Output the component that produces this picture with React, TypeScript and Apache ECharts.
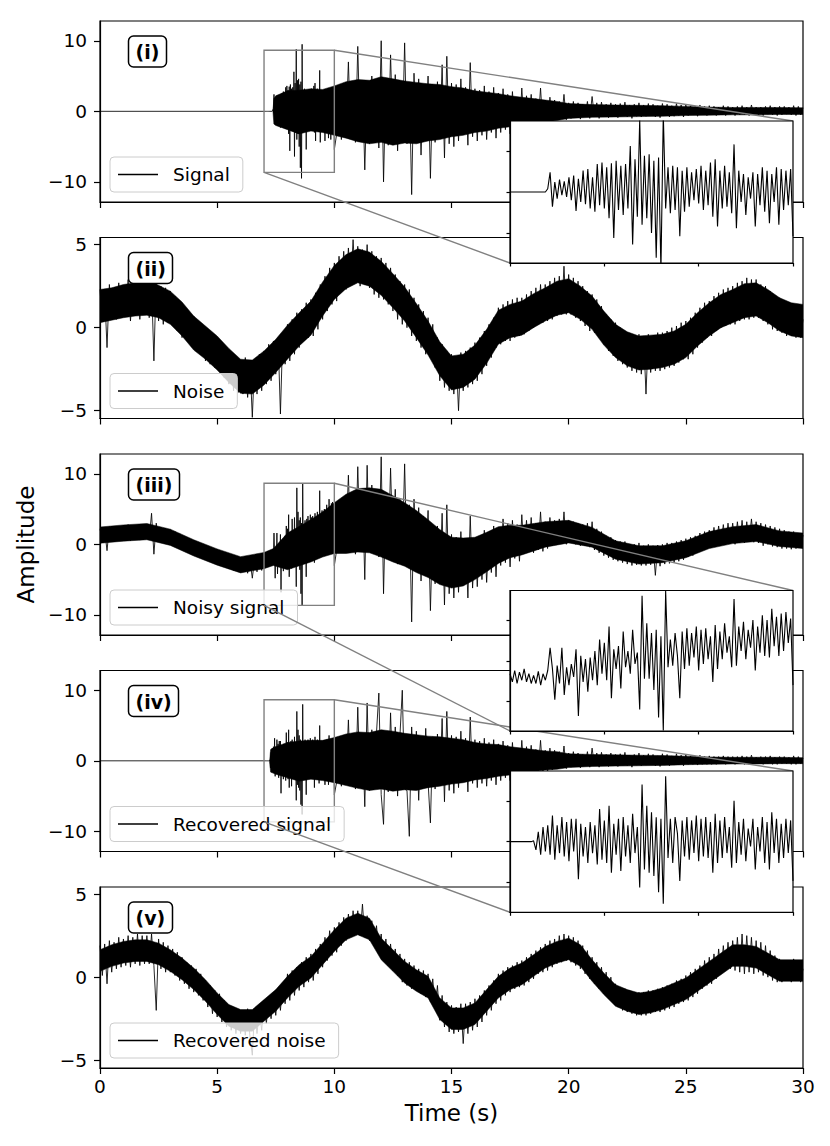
import React, { useEffect, useRef } from 'react';
import * as echarts from 'echarts';

const FONT = 'DejaVu Sans';
const COARSE_DT = 0.1;
const FINE_DT = 0.025;

const xTicks = [0, 5, 10, 15, 20, 25, 30];
const signalYTicks = [-10, 0, 10];
const noiseYTicks = [-5, 0, 5];
const zoomXTicks = [7, 8, 9, 10];
const zoomYTicks = [-5, 0, 5];

const panelNames = ['Signal', 'Noise', 'Noisy signal', 'Recovered signal', 'Recovered noise'];
const panelTags = ['(i)', '(ii)', '(iii)', '(iv)', '(v)'];

// fine samples, t = 7.000 … 10.000 every 0.025 s (shown in the insets)
const signalZoom = [
  0, 0, 0, 0, 0, 0, 0, 0, 0, 0, 0, 0, 0, 0, 0, 0,
  0.4, 2.4, -1.8, 1.2, -0.8, 1.5, -0.4, 1.3, -0.6, 1.8,
  -1.0, 2.0, -2.3, 1.6, -1.2, 2.6, -1.5, 2.8, -2.0, 1.8,
  -2.4, 3.4, -1.6, 3.6, -2.0, 3.0, -3.2, 3.5, -5.6, 3.8,
  -2.2, 3.2, -2.8, 3.4, -2.0, 5.6, -6.4, 4.0, -3.0, 8.8,
  -4.0, 4.4, -3.2, 4.6, -5.0, 3.8, -8.0, 4.2, -9.5, 9.5,
  -2.0, 3.0, -2.6, 3.2, -2.2, 3.0, -5.4, 2.6, -2.4, 3.0,
  -1.8, 2.4, -1.0, 2.8, -1.4, 3.2, -2.2, 2.6, -1.6, 3.6,
  -3.0, 4.0, -4.2, 2.6, -2.0, 3.2, -1.8, 2.4, -2.6, 5.8,
  -4.4, 2.6, -1.2, 2.2, -2.8, 1.8, -0.8, 2.4, -4.2, 2.2,
  -1.6, 3.0, -2.4, 2.6, -3.8, 2.2, -1.2, 3.0, -4.0, 2.8,
  -2.2, 2.6, -1.6, 2.8, -5.4,
];
const noisySignalZoom = [
  -1.6, -2.6, -1.2, -2.8, -1.4, -2.4, -1.0, -2.6, -1.6, -2.8,
  -1.8, -2.8, -1.3, -3.0, -1.6, -2.4, -1.2, 1.6, -1.0, -4.8,
  -0.6, -2.8, 1.6, -4.2, -0.8, -3.0, -0.4, -2.0, 1.4, -6.8,
  0.6, -2.6, 0.2, -3.8, 0.4, -2.4, 1.2, -3.0, 2.6, -1.6,
  2.2, -2.4, 4.2, -4.6, 1.4, -1.0, 1.8, -3.4, 3.6, -0.8,
  1.2, -1.6, 3.8, -0.4, 1.0, -6.0, 8.0, -2.2, 4.6, -2.2,
  3.4, -3.6, 3.8, -7.0, 3.0, -8.6, 8.6, -0.8, 2.6, -0.6,
  3.4, 0.6, -4.6, 3.6, -1.0, 4.0, -0.6, 3.4, 0.4, 4.2,
  -1.2, 3.8, -0.4, 4.0, 0.2, 3.0, -2.6, 4.4, -1.0, 3.6,
  0.2, 4.6, 1.0, 3.0, -0.8, 7.6, -0.6, 4.2, 1.2, 4.8,
  0.2, 3.8, 1.6, 5.0, -1.2, 4.2, 1.0, 5.6, 0.6, 5.0,
  0.4, 6.4, 1.8, 5.4, 0.6, 5.8, 1.2, 6.0, 2.2, 5.2,
  -3.0,
];
const recoveredSignalZoom = [
  0, 0, 0, 0, 0, 0, 0, 0, 0, 0,
  0.1, -1.0, 1.2, -1.6, 1.8, -1.2, 2.0, -1.6, 3.2, -2.2,
  2.0, -1.4, 3.0, -1.8, 2.4, -2.4, 2.8, -1.2, 2.8, -4.6,
  2.2, -1.8, 1.8, -2.6, 2.4, -1.4, 2.0, -2.8, 4.0, -2.2,
  2.6, -2.6, 4.4, -3.8, 2.2, -1.6, 2.8, -3.6, 3.0, -1.8,
  2.0, -2.6, 3.4, -1.4, 1.8, -5.6, 7.0, -3.4, 4.4, -3.8,
  3.6, -4.2, 3.0, -6.2, 2.8, -7.6, 8.0, -2.0, 2.8, -2.6,
  3.0, 1.0, -4.8, 2.6, -1.8, 3.0, -2.2, 2.6, -1.4, 3.2,
  -2.4, 2.8, -1.8, 3.0, -2.0, 2.4, -3.8, 3.4, -2.6, 2.6,
  -2.0, 3.0, -1.4, 1.8, -3.2, 5.0, -2.6, 2.4, -1.6, 2.8,
  -2.4, 1.6, -0.6, 2.8, -3.4, 1.8, -1.2, 3.0, -2.6, 2.4,
  -3.4, 3.6, -1.4, 2.8, -2.6, 2.2, -2.0, 2.8, -1.4, 2.6,
  -4.8,
];

// coarse samples every 0.1 s
const signalTail = [ // t = 10.1 … 30.0
  -3.2, 2.8, -4.0, 3.4, -2.2, 7.0, -3.6, 2.2, -4.4, 9.2,
  -3.8, 4.2, -8.3, 3.6, -4.6, 5.0, -3.0, 4.4, -5.2, 10.0,
  -10.0, 4.6, -4.8, 8.0, -3.6, 5.2, -5.6, 3.8, -4.2, 9.7,
  -4.6, 4.0, -11.8, 5.4, -3.8, 4.6, -6.2, 3.6, -4.0, 5.0,
  -9.5, 3.6, -4.4, 4.2, -3.4, 6.6, -6.6, 7.8, -4.6, 4.0,
  -5.0, 3.8, -4.2, 4.6, -3.2, 3.4, -4.8, 6.9, -3.6, 3.2,
  -4.2, 3.0, -3.4, 3.6, -4.0, 2.8, -3.0, 3.4, -3.8, 2.6,
  -3.0, 3.2, -2.6, 2.4, -3.2, 2.8, -2.2, 2.0, -2.6, 3.3,
  -2.0, 2.2, -1.8, 2.4, -2.2, 1.8, -1.6, 3.3, -2.0, 1.6,
  -1.8, 2.0, -1.4, 1.6, -1.2, 1.4, -1.0, 2.4, -1.2, 1.2,
  -1.0, 1.4, -0.9, 1.2, -1.1, 1.0, -0.8, 1.4, -1.0, 2.1,
  -0.8, 1.2, -1.0, 1.3, -0.7, 1.0, -0.9, 1.2, -0.8, 1.0,
  -0.9, 1.1, -0.6, 1.3, -0.8, 0.9, -1.0, 1.0, -0.7, 1.2,
  -0.8, 0.9, -0.7, 1.1, -0.6, 1.0, -0.8, 0.8, -0.9, 1.1,
  -0.6, 1.0, -0.8, 0.8, -0.7, 1.1, -0.6, 0.9, -0.8, 1.0,
  -0.6, 0.8, -0.5, 0.7, -0.7, 0.9, -0.5, 0.7, -0.6, 0.8,
  -0.5, 0.7, -0.6, 0.6, -0.5, 0.8, -0.6, 0.7, -0.4, 0.6,
  -0.6, 0.7, -0.5, 0.8, -0.5, 0.6, -0.6, 0.9, -0.5, 0.6,
  -0.5, 0.6, -0.6, 0.7, -0.4, 0.8, -0.5, 0.6, -0.6, 0.7,
  -0.5, 0.7, -0.4, 0.6, -0.5, 0.8, -0.6, 0.7, -0.5, 0.5,
];
const noise = [ // t = 0.0 … 30.0
  2.3, 0.4, 2.1, -1.2, 2.6, 0.6, 2.2, 0.5, 2.7, 0.8,
  2.5, 0.7, 2.9, 0.4, 2.4, 1.0, 2.8, 0.5, 2.6, 0.9,
  2.9, 0.6, 2.7, -2.0, 3.1, 0.4, 2.5, 0.2, 2.4, 0.3,
  2.2, 0.1, 1.9, -0.2, 1.6, -0.6, 1.2, -0.8, 0.9, -1.1,
  0.7, -1.4, 0.3, -1.6, 0.1, -2.0, -0.2, -2.2, -0.5, -2.4,
  -0.6, -2.6, -0.9, -3.0, -1.2, -3.4, -1.6, -3.8, -1.9, -3.9,
  -2.0, -4.0, -1.8, -4.2, -2.1, -5.4, -1.9, -4.0, -1.6, -3.8,
  -1.4, -3.4, -1.0, -3.2, -0.8, -2.8, -0.6, -5.2, -0.3, -2.2,
  0.2, -2.0, 0.5, -1.6, 0.9, -1.2, 1.1, -0.8, 1.5, -0.6,
  1.7, -0.5, 2.1, -0.1, 2.6, 0.5, 3.1, 1.0, 3.6, 1.4,
  3.9, 1.6, 4.3, 2.2, 4.6, 2.3, 4.8, 2.6, 5.3, 2.7,
  4.9, 2.5, 4.7, 2.6, 5.0, 2.4, 4.6, 2.0, 4.3, 1.8,
  4.2, 1.7, 3.9, 1.4, 3.6, 1.0, 3.2, 0.5, 2.8, 0.2,
  2.6, 0.0, 2.3, -0.5, 1.8, -0.8, 1.4, -1.2, 1.0, -1.6,
  0.6, -1.8, 0.2, -2.4, -0.6, -3.2, -1.0, -3.6, -1.4, -3.8,
  -1.6, -4.0, -1.8, -5.0, -1.5, -3.8, -1.4, -3.6, -1.2, -3.4,
  -0.9, -3.2, -0.6, -2.8, -0.2, -2.3, 0.2, -1.8, 0.6, -1.2,
  1.2, -1.0, 1.4, -0.8, 1.6, -0.8, 1.7, -0.6, 1.8, -0.5,
  1.8, -0.4, 2.0, -0.2, 2.2, 0.0, 2.4, 0.2, 2.6, 0.3,
  2.6, 0.4, 2.8, 0.5, 3.0, 0.7, 3.1, 0.8, 3.7, 0.8,
  3.2, 0.8, 3.0, 0.6, 2.8, 0.4, 2.5, 0.1, 2.2, -0.2,
  2.0, -0.3, 1.7, -0.6, 1.3, -1.0, 0.8, -1.4, 0.5, -1.7,
  0.3, -2.0, 0.0, -2.2, -0.3, -2.4, -0.4, -2.6, -0.5, -2.7,
  -0.4, -2.8, -0.5, -4.0, -0.4, -2.7, -0.5, -2.6, -0.3, -2.6,
  -0.3, -2.5, -0.2, -2.4, 0.0, -2.3, 0.1, -2.1, 0.3, -1.9,
  0.4, -1.9, 0.6, -1.6, 0.9, -1.2, 1.2, -0.9, 1.5, -0.6,
  1.6, -0.5, 1.9, -0.2, 2.1, 0.0, 2.3, 0.1, 2.4, 0.2,
  2.5, 0.2, 2.7, 0.4, 2.8, 0.5, 3.0, 0.5, 2.9, 0.6,
  2.9, 0.6, 2.6, 0.4, 2.5, 0.2, 2.2, -0.1, 1.9, -0.2,
  1.8, -0.3, 1.6, -0.5, 1.5, -0.4, 1.4, -0.6, 1.3, -0.6,
  0.5,
];
const noisySignalHead = [ // t = 0.0 … 6.9
  2.2, 0.5, 2.0, -0.9, 2.5, 0.7, 2.1, 0.6, 2.6, 0.9,
  2.4, 0.8, 2.8, 0.5, 2.3, 1.1, 2.7, 0.6, 2.5, 1.0,
  2.8, 0.7, 4.4, -1.4, 3.0, 0.5, 2.4, 0.3, 2.3, 0.4,
  2.1, 0.2, 1.8, -0.1, 1.5, -0.5, 1.1, -0.7, 0.8, -1.0,
  0.6, -1.3, 0.2, -1.5, 0.0, -1.9, -0.3, -2.1, -0.6, -2.3,
  -0.7, -2.5, -1.0, -2.9, -1.3, -3.3, -1.7, -3.7, -2.0, -3.8,
  -2.1, -3.9, -1.9, -4.1, -2.2, -4.8, -2.0, -3.9, -1.7, -3.7,
];
const noisySignalTail = [ // t = 10.1 … 30.0
  -0.8, 5.6, -1.2, 6.6, 1.0, 9.8, -0.6, 5.8, -1.4, 11.0,
  -0.4, 7.6, -5.0, 11.2, -1.0, 8.4, 0.4, 7.8, -1.8, 12.4,
  -7.0, 7.4, -1.8, 10.8, -0.8, 7.8, -2.8, 6.4, -1.6, 11.4,
  -3.0, 5.6, -11.0, 6.4, -2.6, 5.2, -5.2, 4.0, -3.6, 4.8,
  -9.4, 2.6, -5.6, 2.6, -5.0, 4.4, -8.6, 5.6, -7.0, 1.4,
  -7.6, 1.0, -6.8, 1.8, -5.8, 0.8, -7.6, 4.0, -6.2, 0.8,
  -6.0, 1.0, -5.0, 2.0, -5.4, 1.4, -4.0, 2.6, -4.6, 2.2,
  -3.0, 3.6, -2.6, 3.0, -3.2, 3.4, -2.0, 2.8, -2.4, 4.2,
  -1.2, 3.4, -1.0, 3.8, -1.2, 3.0, -0.8, 4.6, -1.0, 3.2,
  -0.6, 3.8, -0.2, 3.4, 0.0, 3.6, 0.2, 4.6, 0.0, 3.4,
  0.2, 3.2, 0.0, 3.0, -0.2, 2.8, -0.2, 3.0, -0.4, 3.2,
  -0.8, 2.2, -1.2, 1.8, -1.6, 1.2, -1.9, 1.0, -2.2, 0.6,
  -2.4, 0.4, -2.6, 0.4, -2.8, 0.0, -3.0, 0.0, -2.9, 0.2,
  -3.0, -0.2, -3.0, 0.0, -2.9, -0.2, -4.4, -0.1, -3.1, 0.0,
  -2.8, 0.2, -2.7, 0.2, -2.6, 0.4, -2.4, 0.6, -2.2, 0.8,
  -1.8, 1.0, -1.6, 1.2, -1.2, 1.6, -0.9, 1.8, -0.6, 2.0,
  -0.4, 2.4, -0.2, 2.6, 0.0, 2.8, 0.0, 3.0, 0.2, 3.0,
  0.0, 3.2, 0.2, 3.4, 0.2, 3.2, 0.4, 3.6, 0.3, 3.2,
  0.2, 3.0, -0.2, 2.8, 0.0, 2.6, -0.3, 2.4, -0.4, 2.2,
  -0.6, 2.0, -0.6, 1.8, -0.7, 1.8, -0.6, 1.6, -0.5, 1.3,
];
const recoveredSignalTail = [ // t = 10.1 … 30.0
  -3.0, 2.6, -3.6, 3.0, -2.4, 5.8, -3.2, 2.4, -4.0, 7.6,
  -3.4, 3.8, -6.5, 8.2, -4.2, 4.4, -2.8, 4.0, 9.6, -4.8,
  -9.0, 4.2, -4.4, 6.8, -3.4, 4.8, -5.0, 3.6, 10.0, -4.0,
  -4.2, -10.7, 4.8, -3.6, 4.2, -5.6, 3.4, -3.8, 4.6, -3.0,
  -8.8, 3.4, -4.0, 3.8, -3.2, 6.0, -5.8, 7.0, -4.2, 3.6,
  -4.6, 3.4, -3.8, 4.2, -3.0, 3.2, -4.4, 6.2, -3.2, 3.0,
  -3.8, 2.8, -3.2, 3.2, -3.6, 2.6, -2.8, 3.0, -3.4, 2.4,
  -2.8, 2.8, -2.4, 2.2, -2.8, 2.6, -2.0, 1.8, -2.4, 2.9,
  -1.8, 2.0, -1.6, 2.2, -2.0, 1.6, -1.5, 2.9, -1.8, 1.5,
  -1.6, 1.8, -1.3, 1.5, -1.1, 1.3, -0.9, 2.1, -1.1, 1.1,
  -0.9, 1.3, -0.8, 1.1, -1.0, 0.9, -0.7, 1.3, -0.9, 1.8,
  -0.7, 1.1, -0.9, 1.2, -0.6, 0.9, -0.8, 1.1, -0.7, 0.9,
  -0.8, 1.0, -0.6, 1.2, -0.7, 0.8, -0.9, 0.9, -0.6, 1.1,
  -0.7, 0.8, -0.6, 1.0, -0.5, 0.9, -0.7, 0.7, -0.8, 1.0,
  -0.6, 0.9, -0.7, 0.7, -0.6, 1.0, -0.5, 0.8, -0.7, 0.9,
  -0.5, 0.7, -0.5, 0.6, -0.6, 0.8, -0.5, 0.6, -0.5, 0.7,
  -0.5, 0.6, -0.5, 0.6, -0.4, 0.7, -0.5, 0.6, -0.4, 0.6,
  -0.5, 0.6, -0.4, 0.7, -0.5, 0.6, -0.5, 0.8, -0.4, 0.5,
  -0.4, 0.6, -0.5, 0.6, -0.4, 0.7, -0.5, 0.5, -0.5, 0.6,
  -0.4, 0.6, -0.4, 0.5, -0.5, 0.7, -0.5, 0.6, -0.4, 0.4,
];
const recoveredNoise = [ // t = 0.0 … 30.0
  1.9, 0.1, 2.0, -0.4, 2.2, 0.3, 2.1, 0.5, 2.4, 0.6,
  2.3, 0.7, 2.5, 0.6, 2.4, 0.8, 2.6, 0.7, 2.5, 0.8,
  2.5, 0.8, 2.6, 0.7, -2.0, 2.3, 0.5, 2.1, 0.3, 1.9,
  0.3, 1.7, 0.1, 1.5, -0.2, 1.2, -0.4, 0.9, -0.7, 0.7,
  -0.9, 0.5, -1.1, 0.2, -1.4, -0.2, -1.8, -0.5, -2.2, -0.8,
  -2.4, -1.0, -2.7, -1.4, -3.0, -1.7, -3.2, -2.0, -3.4, -2.2,
  -3.4, -2.0, -3.5, -1.9, -3.6, -4.7, -1.9, -3.4, -2.0, -3.2,
  -1.4, -2.8, -1.2, -2.5, -0.9, -2.3, -0.7, -2.0, -0.4, -1.6,
  0.2, -1.4, 0.4, -1.1, 0.6, -0.8, 0.9, -0.6, 1.2, -0.3,
  1.4, -0.2, 1.7, 0.2, 2.0, 0.6, 2.4, 1.0, 2.8, 1.3,
  3.0, 1.5, 3.3, 1.9, 3.6, 2.2, 3.8, 2.5, 4.0, 2.6,
  4.0, 2.5, 4.4, 2.4, 3.7, 2.2, 3.4, 1.9, 3.1, 1.5,
  2.6, 1.0, 2.3, 0.7, 2.0, 0.4, 1.7, 0.1, 1.4, -0.3,
  1.1, -0.5, 0.9, -0.7, 0.7, -0.8, 0.5, -1.0, 0.4, -1.2,
  0.2, -1.5, -0.1, -1.9, -0.5, -2.6, -1.1, -3.0, -1.5, -3.3,
  -1.7, -3.4, -1.8, -3.3, -1.6, -4.0, -1.6, -3.4, -1.5, -3.2,
  -1.3, -3.0, -1.1, -2.7, -0.8, -2.3, -0.5, -2.0, -0.2, -1.6,
  0.2, -1.4, 0.4, -1.1, 0.6, -0.9, 0.7, -0.7, 0.9, -0.6,
  1.0, -0.5, 1.2, -0.3, 1.4, -0.1, 1.6, 0.2, 1.8, 0.3,
  2.0, 0.4, 2.2, 0.6, 2.3, 0.8, 2.5, 0.9, 2.6, 1.0,
  2.5, 0.9, 2.4, 0.7, 2.2, 0.5, 1.9, 0.2, 1.6, -0.1,
  1.2, -0.4, 0.9, -0.7, 0.6, -1.0, 0.3, -1.3, 0.0, -1.5,
  -0.4, -1.8, -0.6, -2.0, -0.7, -2.1, -0.8, -2.2, -0.9, -2.3,
  -0.9, -2.3, -0.9, -2.3, -0.8, -2.2, -0.8, -2.1, -0.7, -2.1,
  -0.6, -2.0, -0.5, -1.9, -0.4, -1.8, -0.2, -1.6, -0.1, -1.5,
  0.1, -1.4, 0.3, -1.2, 0.5, -1.0, 0.7, -0.7, 1.0, -0.5,
  1.2, -0.4, 1.4, -0.1, 1.7, 0.2, 1.9, 0.4, 2.1, 0.5,
  2.2, 0.4, 2.4, 0.3, 2.6, 0.2, 2.5, 0.3, 2.4, 0.2,
  2.2, 0.3, 2.1, 0.1, 1.9, 0.0, 1.6, -0.2, 1.3, -0.3,
  1.1, -0.3, 1.0, -0.2, 1.0, -0.3, 1.1, -0.2, 1.0, -0.3,
  0.5,
];

// dense core of each trace: [t, lower, upper]
const signalCore = [
  [7.38, 0, 0], [7.42, -1.8, 1.8], [7.5, -2.0, 2.2], [8, -2.6, 2.9], [8.5, -3.2, 3.0], [9, -2.8, 3.2],
  [9.5, -3.0, 3.1], [10, -3.4, 3.6], [10.5, -3.8, 4.2], [11, -4.3, 4.5], [11.5, -4.6, 4.4], [12, -4.4, 4.9],
  [12.5, -4.8, 4.6], [13, -4.5, 4.3], [13.5, -4.6, 4.1], [14, -4.2, 3.9], [14.5, -4.0, 3.8], [15, -3.6, 3.5],
  [15.5, -3.4, 3.3], [16, -3.0, 2.9], [16.5, -2.8, 2.7], [17, -2.4, 2.5], [17.5, -2.2, 2.2], [18, -2.0, 2.0],
  [18.5, -1.7, 1.8], [19, -1.5, 1.6], [19.5, -1.3, 1.4], [20, -1.0, 1.1], [21, -0.85, 0.95], [22, -0.8, 0.9],
  [23, -0.75, 0.85], [24, -0.7, 0.8], [25, -0.6, 0.7], [26, -0.55, 0.6], [27, -0.5, 0.55], [28, -0.5, 0.55],
  [29, -0.45, 0.55], [30, -0.45, 0.5],
];
const noiseCore = [
  [0, 0.3, 2.3], [0.5, 0.45, 2.4], [1, 0.6, 2.6], [1.5, 0.7, 2.7], [2, 0.75, 2.85], [2.5, 0.6, 2.55],
  [3, 0.2, 2.2], [3.5, -0.5, 1.55], [4, -1.35, 0.7], [4.5, -1.9, 0.1], [5, -2.55, -0.5], [5.5, -3.3, -1.25],
  [6, -3.95, -1.9], [6.5, -4.0, -1.95], [7, -3.45, -1.4], [7.5, -2.7, -0.7], [8, -1.9, 0.15], [8.5, -1.1, 0.9],
  [9, -0.45, 1.6], [9.5, 0.7, 2.75], [10, 1.7, 3.75], [10.5, 2.35, 4.4], [11, 2.7, 4.75], [11.5, 2.5, 4.55],
  [12, 1.95, 4.0], [12.5, 1.2, 3.25], [13, 0.4, 2.45], [13.5, -0.6, 1.45], [14, -1.65, 0.4], [14.5, -2.9, -0.85],
  [15, -3.75, -1.7], [15.5, -3.6, -1.6], [16, -3.1, -1.05], [16.5, -2.15, -0.1], [17, -1.0, 1.05], [17.5, -0.6, 1.4],
  [18, -0.45, 1.6], [18.5, 0.0, 2.05], [19, 0.4, 2.4], [19.5, 0.75, 2.8], [20, 0.9, 2.95], [20.5, 0.5, 2.5],
  [21, -0.1, 1.9], [21.5, -1.05, 1.0], [22, -1.8, 0.2], [22.5, -2.3, -0.25], [23, -2.55, -0.5], [23.5, -2.5, -0.45],
  [24, -2.4, -0.4], [24.5, -2.2, -0.2], [25, -1.8, 0.2], [25.5, -1.1, 0.9], [26, -0.5, 1.5], [26.5, 0.0, 2.0],
  [27, 0.3, 2.3], [27.5, 0.6, 2.65], [28, 0.7, 2.7], [28.5, 0.3, 2.3], [29, -0.2, 1.8], [29.5, -0.5, 1.5],
  [30, -0.6, 1.4],
];
const noisySignalCore = [
  [0, 0.15, 2.45], [1, 0.45, 2.75], [2, 0.65, 2.95], [3, -0.15, 2.15], [4, -1.65, 0.65], [5, -2.95, -0.65], [6, -4.05, -1.75],
  [7, -3.45, -1.15], [7.4, -3.0, -0.6], [8, -3.6, 1.6], [9, -2.5, 3.5], [9.5, -1.8, 4.6], [10, -1.3, 5.9],
  [10.5, -1.3, 7.1], [11, -1.1, 7.9], [11.5, -1.2, 8.0], [12, -1.8, 7.8], [12.5, -2.5, 6.9], [13, -3.1, 5.9],
  [13.5, -4.0, 4.8], [14, -4.7, 3.5], [14.5, -5.7, 2.1], [15, -6.2, 1.0], [15.5, -5.9, 0.9], [16, -5.0, 1.0],
  [16.5, -3.9, 1.7], [17, -2.7, 2.5], [17.5, -1.9, 2.7], [18, -1.5, 2.7], [19, -0.4, 3.2], [20, 0.2, 3.4],
  [21, -0.4, 2.4], [22, -2.1, 0.5], [23, -2.8, -0.2], [24, -2.6, -0.2], [25, -1.9, 0.5], [26, -0.6, 1.8],
  [27, 0.1, 2.5], [28, 0.4, 2.8], [29, -0.3, 1.9], [30, -0.6, 1.6],
];
const recoveredSignalCore = [
  [7.24, 0, 0], [7.28, -1.6, 1.6], [7.5, -1.9, 2.0], [8, -2.4, 2.6], [8.5, -2.9, 2.8], [9, -2.6, 2.9],
  [9.5, -2.8, 2.9], [10, -3.1, 3.3], [10.5, -3.5, 3.8], [11, -3.9, 4.1], [11.5, -4.2, 4.0], [12, -4.0, 4.4],
  [12.5, -4.3, 4.2], [13, -4.1, 3.9], [13.5, -4.2, 3.7], [14, -3.8, 3.5], [14.5, -3.6, 3.4], [15, -3.3, 3.2],
  [15.5, -3.1, 3.0], [16, -2.7, 2.6], [16.5, -2.5, 2.4], [17, -2.2, 2.3], [17.5, -2.0, 2.0], [18, -1.8, 1.8],
  [18.5, -1.5, 1.6], [19, -1.3, 1.4], [19.5, -1.2, 1.3], [20, -0.95, 1.0], [21, -0.8, 0.9], [22, -0.75, 0.85],
  [23, -0.7, 0.8], [24, -0.65, 0.75], [25, -0.55, 0.65], [26, -0.5, 0.55], [27, -0.45, 0.5], [28, -0.45, 0.5],
  [29, -0.4, 0.5], [30, -0.4, 0.45],
];
const recoveredNoiseCore = [
  [0, 0.35, 1.65], [0.5, 0.65, 1.95], [1, 0.85, 2.15], [1.5, 0.95, 2.25], [2, 0.95, 2.25], [2.5, 0.75, 2.05],
  [3, 0.35, 1.65], [3.5, -0.15, 1.15], [4, -0.75, 0.55], [4.5, -1.45, -0.15], [5, -2.25, -0.95], [5.5, -2.95, -1.65],
  [6, -3.25, -1.95], [6.5, -3.25, -1.95], [7, -2.65, -1.35], [7.5, -2.05, -0.75], [8, -1.25, 0.05], [8.5, -0.55, 0.75],
  [9, -0.05, 1.25], [9.5, 0.75, 2.05], [10, 1.55, 2.85], [10.5, 2.25, 3.55], [11, 2.55, 3.85], [11.5, 2.25, 3.55],
  [12, 1.05, 2.35], [12.5, 0.35, 1.65], [13, -0.35, 0.95], [13.5, -0.85, 0.45], [14, -1.25, 0.05], [14.5, -2.55, -1.25],
  [15, -3.15, -1.85], [15.5, -3.15, -1.85], [16, -2.85, -1.55], [16.5, -2.05, -0.75], [17, -1.25, 0.05], [17.5, -0.75, 0.55],
  [18, -0.45, 0.85], [18.5, 0.05, 1.35], [19, 0.55, 1.85], [19.5, 0.85, 2.15], [20, 1.05, 2.35], [20.5, 0.65, 1.95],
  [21, -0.25, 1.05], [21.5, -1.05, 0.25], [22, -1.75, -0.45], [22.5, -2.05, -0.75], [23, -2.25, -0.95], [23.5, -2.15, -0.85],
  [24, -1.95, -0.65], [24.5, -1.65, -0.35], [25, -1.35, -0.05], [25.5, -0.85, 0.45], [26, -0.35, 0.95], [26.5, 0.15, 1.45],
  [27, 0.65, 1.95], [27.5, 0.65, 1.95], [28, 0.55, 1.85], [28.5, 0.15, 1.45], [29, -0.25, 1.05], [29.5, -0.25, 1.05],
  [30, -0.25, 1.05],
];

const SIGNAL_RANGE = [-12.85, 12.8];
const NOISE_RANGE = [-5.47, 5.43];
const ZOOM_T = [7, 10];
const ZOOM_V = [-8.65, 8.65];

// layout (pixels)
const LEFT = 100;
const WIDTH = 703;
const PANEL_TOPS = [21, 237.5, 454, 670.5, 887];
const PANEL_H = 181;
const INSETS = [
  { panel: 0, top: 121, h: 142 },
  { panel: 2, top: 590.5, h: 140.5 },
  { panel: 3, top: 771, h: 141.3 },
];
const INSET_LEFT = 510;
const INSET_W = 283;

function seg(t0: number, dt: number, vals: number[]) {
  return vals.map((v, i) => [Math.round((t0 + i * dt) * 1000) / 1000, v]);
}

const zoomSets = [signalZoom, noisySignalZoom, recoveredSignalZoom];

const panelData = [
  [[0, 0], ...seg(7, FINE_DT, signalZoom), ...seg(10.1, COARSE_DT, signalTail)],
  seg(0, COARSE_DT, noise),
  [...seg(0, COARSE_DT, noisySignalHead), ...seg(7, FINE_DT, noisySignalZoom), ...seg(10.1, COARSE_DT, noisySignalTail)],
  [[0, 0], ...seg(7, FINE_DT, recoveredSignalZoom), ...seg(10.1, COARSE_DT, recoveredSignalTail)],
  seg(0, COARSE_DT, recoveredNoise),
];
const panelCores = [signalCore, noiseCore, noisySignalCore, recoveredSignalCore, recoveredNoiseCore];
const panelRanges = [SIGNAL_RANGE, NOISE_RANGE, SIGNAL_RANGE, SIGNAL_RANGE, NOISE_RANGE];
const panelYTicks = [signalYTicks, noiseYTicks, signalYTicks, signalYTicks, noiseYTicks];

const fmt = (v: number) => (v < 0 ? '\u2212' + Math.abs(v) : String(v));
const BLACK = '#000';
const GRAY = '#808080';

export default function App() {
  const ref = useRef<HTMLDivElement>(null);
  useEffect(() => {
    if (!ref.current) return;
    const chart = echarts.init(ref.current, null, { renderer: 'svg' });

    const grid: any[] = [
      ...PANEL_TOPS.map((top) => ({
        left: LEFT, top, width: WIDTH, height: PANEL_H, show: true,
        borderColor: BLACK, borderWidth: 1.2, backgroundColor: 'transparent',
      })),
      ...INSETS.map((ins) => ({
        left: INSET_LEFT, top: ins.top, width: INSET_W, height: ins.h, show: true,
        borderColor: BLACK, borderWidth: 1.2, backgroundColor: '#fff', z: 10,
      })),
    ];

    const xAxis: any[] = [
      ...PANEL_TOPS.map((_, i) => ({
        gridIndex: i, type: 'value', min: xTicks[0], max: xTicks[xTicks.length - 1], interval: 5,
        axisLine: { show: true, onZero: false, lineStyle: { color: BLACK, width: 1.2 } },
        axisTick: { show: true, length: 6, inside: false, lineStyle: { color: BLACK, width: 1.2 } },
        axisLabel: { show: i === 4, margin: 9, fontSize: 18.5, color: BLACK, fontFamily: FONT },
        splitLine: { show: false },
        name: i === 4 ? 'Time (s)' : '',
        nameLocation: 'middle', nameGap: 33,
        nameTextStyle: { fontSize: 23, color: BLACK, fontFamily: FONT },
      })),
      ...INSETS.map((_, k) => ({
        gridIndex: 5 + k, type: 'value', min: ZOOM_T[0], max: ZOOM_T[1], interval: 1, z: 11,
        axisLine: { show: true, onZero: false, lineStyle: { color: BLACK, width: 1.2 } },
        axisTick: { show: true, length: 3.5, lineStyle: { color: BLACK, width: 1.2 }, customValues: zoomXTicks },
        axisLabel: { show: false },
        splitLine: { show: false },
      })),
    ];

    const yAxis: any[] = [
      ...PANEL_TOPS.map((_, i) => ({
        gridIndex: i, type: 'value', min: panelRanges[i][0], max: panelRanges[i][1],
        axisLine: { show: true, onZero: false, lineStyle: { color: BLACK, width: 1.2 } },
        axisTick: { show: true, length: 6, customValues: panelYTicks[i], lineStyle: { color: BLACK, width: 1.2 } },
        axisLabel: { show: true, customValues: panelYTicks[i], formatter: fmt, margin: 13, fontSize: 18.5, color: BLACK, fontFamily: FONT },
        splitLine: { show: false },
        name: i === 2 ? 'Amplitude' : '',
        nameLocation: 'middle', nameGap: 62, nameRotate: 90,
        nameTextStyle: { fontSize: 23, color: BLACK, fontFamily: FONT },
      })),
      ...INSETS.map((_, k) => ({
        gridIndex: 5 + k, type: 'value', min: ZOOM_V[0], max: ZOOM_V[1], z: 11,
        axisLine: { show: true, onZero: false, lineStyle: { color: BLACK, width: 1.2 } },
        axisTick: { show: true, length: 3.5, customValues: zoomYTicks, lineStyle: { color: BLACK, width: 1.2 } },
        axisLabel: { show: false },
        splitLine: { show: false },
      })),
    ];

    const coreSeries: any[] = panelCores.map((core, i) => ({
      type: 'custom', name: panelNames[i] + ' core', xAxisIndex: i, yAxisIndex: i,
      coordinateSystem: 'cartesian2d', data: [0], silent: true, z: 2, clip: true,
      renderItem: (_params: any, api: any) => {
        const upper = core.map((p) => api.coord([p[0], p[2]]));
        const lower = core.slice().reverse().map((p) => api.coord([p[0], p[1]]));
        return { type: 'polygon', shape: { points: [...upper, ...lower] }, style: { fill: '#000', stroke: '#000', lineWidth: 0.5 } };
      },
    }));

    const series: any[] = [
      ...coreSeries,
      ...panelData.map((data, i) => ({
        type: 'line', name: panelNames[i], xAxisIndex: i, yAxisIndex: i, data,
        showSymbol: false, symbol: 'none', silent: true, z: 2,
        lineStyle: { color: BLACK, width: 0.85 }, itemStyle: { color: BLACK },
      })),
      ...INSETS.map((ins, k) => ({
        type: 'line', name: panelNames[ins.panel] + ' (zoom)', xAxisIndex: 5 + k, yAxisIndex: 5 + k,
        data: seg(7, FINE_DT, zoomSets[k]),
        showSymbol: false, symbol: 'none', silent: true, z: 11,
        lineStyle: { color: BLACK, width: 1.1 }, itemStyle: { color: BLACK },
      })),
    ];

    const legend: any[] = PANEL_TOPS.map((top, i) => ({
      data: [panelNames[i]], left: 110, top: top + PANEL_H - 10 - 35,
      icon: 'rect', itemWidth: 40, itemHeight: 1.3,
      padding: [7.5, 13, 7.5, 8],
      backgroundColor: 'rgba(255,255,255,0.8)', borderColor: '#cccccc', borderWidth: 1, borderRadius: 4,
      selectedMode: false, z: 4,
      textStyle: { fontSize: 18.5, fontFamily: FONT, color: BLACK, lineHeight: 20, padding: [0, 0, 0, 10] },
    }));

    const title: any[] = PANEL_TOPS.map((top, i) => ({
      text: panelTags[i], left: 128.5, top: top + 15,
      padding: [6, 7, 5, 7], borderColor: BLACK, borderWidth: 1.5, borderRadius: 5,
      backgroundColor: '#fff',
      textStyle: { fontSize: 19, fontWeight: 'bold', fontFamily: FONT, color: BLACK, lineHeight: 20 },
    }));

    chart.setOption({
      animation: false,
      textStyle: { fontFamily: FONT },
      grid, xAxis, yAxis, series, legend, title,
    });

    const elements: any[] = [];
    INSETS.forEach((ins, k) => {
      const p = ins.panel;
      const a = chart.convertToPixel({ xAxisIndex: p, yAxisIndex: p }, [ZOOM_T[0], ZOOM_V[1]]) as number[];
      const b = chart.convertToPixel({ xAxisIndex: p, yAxisIndex: p }, [ZOOM_T[1], ZOOM_V[0]]) as number[];
      const ia = chart.convertToPixel({ xAxisIndex: 5 + k, yAxisIndex: 5 + k }, [ZOOM_T[1], ZOOM_V[1]]) as number[];
      const ib = chart.convertToPixel({ xAxisIndex: 5 + k, yAxisIndex: 5 + k }, [ZOOM_T[0], ZOOM_V[0]]) as number[];
      elements.push({
        type: 'rect', z: 3, silent: true,
        shape: { x: a[0], y: a[1], width: b[0] - a[0], height: b[1] - a[1] },
        style: { fill: 'none', stroke: GRAY, lineWidth: 1.4 },
      });
      elements.push({
        type: 'line', z: 5, silent: true,
        shape: { x1: b[0], y1: a[1], x2: ia[0], y2: ia[1] },
        style: { stroke: GRAY, lineWidth: 1.4 },
      });
      elements.push({
        type: 'line', z: 5, silent: true,
        shape: { x1: a[0], y1: b[1], x2: ib[0], y2: ib[1] },
        style: { stroke: GRAY, lineWidth: 1.4 },
      });
    });
    chart.setOption({ graphic: { elements } });

    return () => chart.dispose();
  }, []);

  return (
    <div
      ref={ref}
      style={{ position: 'absolute', left: 0, top: 0, width: '830px', height: '1146px', background: '#fff' }}
    />
  );
}
